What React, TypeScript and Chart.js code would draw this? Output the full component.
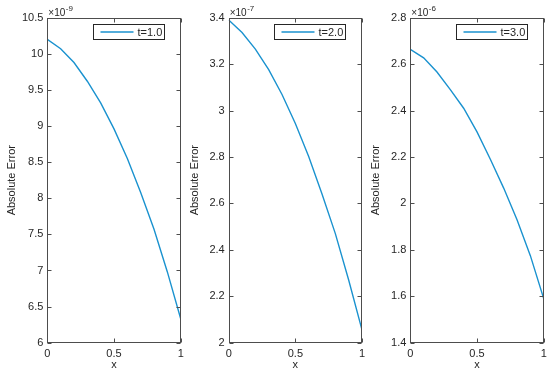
import React, { useEffect, useRef } from "react";
import { Chart, registerables } from "chart.js";

Chart.register(...registerables);

// ---- data ----
const xValues = [0, 0.1, 0.2, 0.3, 0.4, 0.5, 0.6, 0.7, 0.8, 0.9, 1.0];
// absolute error at t=1.0 (units of 1e-9)
const errT1 = [10.2, 10.07, 9.88, 9.62, 9.32, 8.96, 8.55, 8.08, 7.57, 6.98, 6.33];
// absolute error at t=2.0 (units of 1e-7)
const errT2 = [3.39, 3.336, 3.265, 3.176, 3.069, 2.944, 2.802, 2.641, 2.47, 2.27, 2.055];
// absolute error at t=3.0 (units of 1e-6)
const errT3 = [2.664, 2.627, 2.566, 2.49, 2.41, 2.308, 2.19, 2.066, 1.93, 1.775, 1.59];

const seriesLabels = ["t=1.0", "t=2.0", "t=3.0"];
const exponents = ["-9", "-7", "-6"];
const yMins = [6, 2, 1.4];
const yMaxs = [10.5, 3.4, 2.8];
const ySteps = [0.5, 0.2, 0.2];
const xTickValues = [0, 0.5, 1];
const yTitle = "Absolute Error";
const xTitle = "x";

// ---- layout / style ----
const EXTRA = 8;
const panels = [
  { left: 0, width: 183, yAxisW: 47.3, padRight: 2.3 },
  { left: 183, width: 181, yAxisW: 45.7, padRight: 2 },
  { left: 364, width: 186, yAxisW: 46.3, padRight: 6.3 },
];
const H = 375;
const PLOT_TOP = 17.7;
const X_AXIS_H = 32.3;
const FONT = "'Liberation Sans', Arial, Helvetica, sans-serif";
const TEXT = "#262626";
const AXIS = "#4d4d4d";
const LINE = "#1a92cf";

const decorPlugin = {
  id: "matlabDecor",
  afterDraw(chart: any, _args: any, opts: any) {
    const { ctx, chartArea, scales } = chart;
    const { left, right, top, bottom } = chartArea;
    const L = Math.round(left) + 0.5;
    const R = Math.round(right) - 0.5;
    const T = Math.round(top) + 0.5;
    const B = Math.round(bottom) - 0.5;
    ctx.save();
    ctx.strokeStyle = AXIS;
    ctx.lineWidth = 1;
    ctx.strokeRect(L, T, R - L, B - T);
    const tl = 4;
    ctx.beginPath();
    scales.y.ticks.forEach((t: any) => {
      const py = Math.round(scales.y.getPixelForValue(t.value)) + 0.5;
      ctx.moveTo(L, py);
      ctx.lineTo(L + tl, py);
      ctx.moveTo(R, py);
      ctx.lineTo(R - tl, py);
    });
    scales.x.ticks.forEach((t: any) => {
      const px = Math.round(scales.x.getPixelForValue(t.value)) + 0.5;
      ctx.moveTo(px, B);
      ctx.lineTo(px, B - tl);
      ctx.moveTo(px, T);
      ctx.lineTo(px, T + tl);
    });
    ctx.stroke();

    // exponent label
    ctx.fillStyle = TEXT;
    ctx.textBaseline = "alphabetic";
    ctx.textAlign = "left";
    ctx.font = `10px ${FONT}`;
    const baseX = left + 1;
    const baseY = top - 1.5;
    const timesTen = "\u00d710";
    ctx.fillText(timesTen, baseX, baseY);
    const w = ctx.measureText(timesTen).width;
    ctx.font = `8px ${FONT}`;
    ctx.fillText(opts.exp, baseX + w + 0.5, baseY - 5);

    // legend
    const label = chart.data.datasets[0].label;
    const bw = 71;
    const bh = 15;
    const bx = Math.round(right - 17 - bw) + 0.5;
    const by = Math.round(top + 6) + 0.5;
    ctx.fillStyle = "#ffffff";
    ctx.fillRect(bx, by, bw, bh);
    ctx.strokeStyle = "#262626";
    ctx.lineWidth = 1;
    ctx.strokeRect(bx, by, bw, bh);
    ctx.strokeStyle = LINE;
    ctx.lineWidth = 1.3;
    ctx.beginPath();
    ctx.moveTo(bx + 7, by + bh / 2);
    ctx.lineTo(bx + 40, by + bh / 2);
    ctx.stroke();
    ctx.fillStyle = TEXT;
    ctx.font = `11px ${FONT}`;
    ctx.textBaseline = "middle";
    ctx.fillText(label, bx + 44, by + bh / 2 + 0.5);
    ctx.restore();
  },
};

function fmt(v: number) {
  return String(Number(v.toFixed(3)));
}

function Panel({ idx }: { idx: number }) {
  const ref = useRef<HTMLCanvasElement | null>(null);
  const p = panels[idx];
  const values = [errT1, errT2, errT3][idx];
  const cw = p.width + EXTRA;
  useEffect(() => {
    if (!ref.current) return;
    const chart = new Chart(ref.current, {
      type: "line",
      data: {
        datasets: [
          {
            label: seriesLabels[idx],
            data: xValues.map((x, i) => ({ x, y: values[i] })),
            borderColor: LINE,
            borderWidth: 1.4,
            pointRadius: 0,
            tension: 0,
            fill: false,
          },
        ],
      },
      plugins: [decorPlugin],
      options: {
        animation: false,
        responsive: false,
        devicePixelRatio: 1,
        layout: { padding: { top: PLOT_TOP, right: p.padRight + EXTRA, left: 0, bottom: 0 } },
        plugins: {
          legend: { display: false },
          tooltip: { enabled: false },
          matlabDecor: { exp: exponents[idx] },
        } as any,
        scales: {
          x: {
            type: "linear",
            min: 0,
            max: 1,
            afterBuildTicks: (s: any) => {
              s.ticks = xTickValues.map((v) => ({ value: v }));
            },
            afterFit: (s: any) => {
              s.height = X_AXIS_H;
              s.paddingLeft = 0;
              s.paddingRight = 0;
            },
            grid: { display: false, drawTicks: false },
            border: { display: false },
            ticks: {
              padding: 5,
              maxRotation: 0,
              autoSkip: false,
              color: TEXT,
              font: { family: FONT, size: 11 },
              callback: (v: any) => fmt(Number(v)),
            },
            title: {
              display: true,
              text: xTitle,
              color: TEXT,
              font: { family: FONT, size: 11 },
              padding: { top: 0, bottom: 3 },
            },
          },
          y: {
            type: "linear",
            min: yMins[idx],
            max: yMaxs[idx],
            afterFit: (s: any) => {
              s.width = p.yAxisW;
              s.paddingTop = 0;
              s.paddingBottom = 0;
            },
            grid: { display: false, drawTicks: false },
            border: { display: false },
            ticks: {
              stepSize: ySteps[idx],
              padding: 4,
              autoSkip: false,
              color: TEXT,
              font: { family: FONT, size: 11 },
              callback: (v: any) => fmt(Number(v)),
            },
            title: {
              display: true,
              text: yTitle,
              color: TEXT,
              font: { family: FONT, size: 11 },
              padding: { top: 5.4, bottom: 0 },
            },
          },
        },
      } as any,
    });
    return () => chart.destroy();
  }, [idx]);
  return (
    <canvas
      ref={ref}
      width={cw}
      height={H}
      style={{ position: "absolute", left: p.left, top: 0, width: cw, height: H }}
    />
  );
}

export default function App() {
  return (
    <div
      style={{
        position: "fixed",
        left: 0,
        top: 0,
        width: 550,
        height: H,
        background: "#ffffff",
        overflow: "hidden",
      }}
    >
      <Panel idx={0} />
      <Panel idx={1} />
      <Panel idx={2} />
    </div>
  );
}
